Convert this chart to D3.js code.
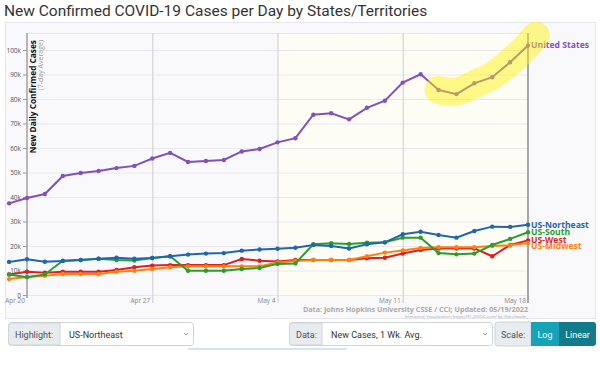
<!DOCTYPE html>
<html>
<head>
<meta charset="utf-8">
<script src="https://cdn.jsdelivr.net/npm/d3@7"></script>
<style>
  body { margin: 0; background: #fff; }
  svg { display: block; }
</style>
</head>
<body>
<div id="chart"></div>
<script>
// chart data (thousands of new cases, 7-day average)
var dates = ["2022-04-19","2022-04-20","2022-04-21","2022-04-22","2022-04-23","2022-04-24","2022-04-25",
  "2022-04-26","2022-04-27","2022-04-28","2022-04-29","2022-04-30","2022-05-01","2022-05-02","2022-05-03",
  "2022-05-04","2022-05-05","2022-05-06","2022-05-07","2022-05-08","2022-05-09","2022-05-10","2022-05-11",
  "2022-05-12","2022-05-13","2022-05-14","2022-05-15","2022-05-16","2022-05-17","2022-05-18"];

var unitedStates = [37.4,39.6,41.2,48.6,49.8,50.6,51.8,52.7,55.7,58,54.3,54.7,55.1,58.6,59.6,
  62.3,64,73.6,74.2,71.7,76.4,79.3,86.7,90.1,83.7,82,86.4,88.9,95,101.8];
var usNortheast = [13.5,14.6,13.6,13.9,14.3,14.8,15.2,14.8,15.1,15.8,16.5,16.9,17.1,18.1,18.6,
  18.9,19.3,20.4,20,19,20.7,21.5,24.8,25.8,24.5,23.4,26.1,27.9,27.8,28.7];
var usSouth = [8.4,7.3,8.4,14,14.3,14.8,14.3,14.1,15.1,15.8,9.9,9.9,9.9,10.6,11,
  12.7,12.9,20.7,21.1,20.8,21.3,21.5,23.4,23.4,17.1,16.6,16.9,20.4,22.9,25.6];
var usWest = [8.4,9.5,9.1,9.5,9.5,9.5,10.2,11.3,12,12.2,12.2,12.2,12.2,14.7,14,
  13.7,14.3,14.3,14.3,14.3,15,15.2,16.9,18.4,19,19,19,15.8,20.4,22.3];
var usMidwest = [6.5,7.3,7.9,8.6,8.6,8.6,9.5,9.9,10.6,11.3,11.7,11.7,11.7,11.7,11.7,
  13.3,13.9,14.3,14.3,14.3,15.8,17.3,18.2,19.2,19.5,19.5,19.5,20,20.3,21.2];

var seriesNames = ["US-West","US-Midwest","US-South","US-Northeast","United States"];
var seriesColors = ["#dc1f1f","#ff7f0e","#2a9d2a","#1f66b0","#8150c0"];
var seriesValues = [usWest, usMidwest, usSouth, usNortheast, unitedStates];

var xTickDates = ["2022-04-20","2022-04-27","2022-05-04","2022-05-11","2022-05-18"];
var yTicks = [0,10,20,30,40,50,60,70,80,90,100];
var highlightFrom = "2022-05-13";

var parseDate = d3.timeParse("%Y-%m-%d");
var fmtDay = d3.timeFormat("%b %-d");

var width = 600, height = 386;
var plot = {left: 6, x0: 27, right: 528, top: 33, bottom: 295};

var x = d3.scaleTime()
    .domain([parseDate("2022-04-20"), parseDate("2022-05-18")])
    .range([plot.x0, plot.right]);
var y = d3.scaleLinear().domain([0, 100]).range([plot.bottom, 50]);

var svg = d3.select("#chart").append("svg")
    .attr("width", width)
    .attr("height", height)
    .style("font-family", "Roboto, 'Open Sans', sans-serif");

// title
svg.append("text")
    .attr("x", 4).attr("y", 16)
    .attr("font-size", 15.5)
    .attr("fill", "#333")
    .text("New Confirmed COVID-19 Cases per Day by States/Territories");

// outer panel
svg.append("rect")
    .attr("x", 5.5).attr("y", 22.5)
    .attr("width", 590).attr("height", 296)
    .attr("fill", "#f9f9fc")
    .attr("stroke", "#e6e6ee");

svg.append("defs").append("clipPath").attr("id", "clip")
  .append("rect")
    .attr("x", plot.left).attr("y", plot.top)
    .attr("width", plot.right - plot.left + 4).attr("height", plot.bottom - plot.top + 4);

// cream background for latest weeks
svg.append("rect")
    .attr("x", x(parseDate("2022-05-04"))).attr("y", plot.top)
    .attr("width", x(parseDate("2022-05-18")) - x(parseDate("2022-05-04")))
    .attr("height", plot.bottom - plot.top)
    .attr("fill", "#fdfdf6");

// horizontal grid
svg.append("g").selectAll("line")
    .data(yTicks.concat([110]))
    .enter().append("line")
    .attr("x1", plot.x0).attr("x2", plot.right)
    .attr("y1", function(d) { return Math.max(plot.top, y(d)) + 0.5; })
    .attr("y2", function(d) { return Math.max(plot.top, y(d)) + 0.5; })
    .attr("stroke", "#e8e8ee");

// vertical grid lines
svg.append("g").selectAll("line")
    .data(xTickDates.slice(1, 4))
    .enter().append("line")
    .attr("x1", function(d) { return x(parseDate(d)) + 0.5; })
    .attr("x2", function(d) { return x(parseDate(d)) + 0.5; })
    .attr("y1", plot.top).attr("y2", 303)
    .attr("stroke", "#d4d4d8").attr("stroke-width", 1.2);

// y axis
var yAxis = svg.append("g")
    .attr("transform", "translate(" + plot.x0 + ",0)")
    .call(d3.axisLeft(y).tickValues(yTicks).tickSize(4).tickPadding(2)
      .tickFormat(function(d) { return d === 0 ? "0" : d + "k"; }));
yAxis.select(".domain").remove();
yAxis.selectAll("line").attr("stroke", "#999");
yAxis.selectAll("text").attr("font-size", 6.5).attr("fill", "#555")
    .attr("font-family", "'Open Sans', sans-serif");
svg.append("line")
    .attr("x1", plot.x0).attr("x2", plot.x0)
    .attr("y1", plot.top).attr("y2", 298)
    .attr("stroke", "#a0a0a4").attr("stroke-width", 1.5);

// today line
svg.append("line")
    .attr("x1", plot.right).attr("x2", plot.right)
    .attr("y1", plot.top).attr("y2", 303)
    .attr("stroke", "#8a8a8e").attr("stroke-width", 1.5);

// x axis labels
svg.append("g").selectAll("text")
    .data(xTickDates)
    .enter().append("text")
    .attr("x", function(d) { return x(parseDate(d)) - 2; })
    .attr("y", 303)
    .attr("text-anchor", "end")
    .attr("font-size", 6.5)
    .attr("fill", "#888")
    .attr("font-family", "'Open Sans', sans-serif")
    .text(function(d) { return fmtDay(parseDate(d)); });

// axis title
svg.append("text")
    .attr("transform", "translate(36,40) rotate(-90)")
    .attr("text-anchor", "end")
    .attr("font-size", 8.3).attr("font-weight", "bold").attr("fill", "#111")
    .attr("font-family", "'Open Sans', sans-serif")
    .text("New Daily Confirmed Cases");
svg.append("text")
    .attr("transform", "translate(43,40) rotate(-90)")
    .attr("text-anchor", "end")
    .attr("font-size", 7).attr("fill", "#999")
    .attr("font-family", "'Open Sans', sans-serif")
    .text("(7-day Average)");

// lines
var line = d3.line()
    .x(function(d, i) { return x(parseDate(dates[i])); })
    .y(function(d) { return y(d); });

var lines = svg.append("g").attr("clip-path", "url(#clip)");
seriesValues.forEach(function(vals, k) {
  var g = lines.append("g");
  g.append("path")
      .attr("d", line(vals))
      .attr("fill", "none")
      .attr("stroke", seriesColors[k])
      .attr("stroke-width", 2);
  g.selectAll("circle")
      .data(vals)
      .enter().append("circle")
      .attr("cx", function(d, i) { return x(parseDate(dates[i])); })
      .attr("cy", function(d) { return y(d); })
      .attr("r", 2.2)
      .attr("fill", seriesColors[k]);
});

// series labels
var labelY = {"United States": 48, "US-Northeast": 227.5, "US-South": 235, "US-West": 242.5, "US-Midwest": 248.5};
seriesNames.forEach(function(name, k) {
  svg.append("text")
      .attr("x", plot.right + 3)
      .attr("y", labelY[name])
      .attr("font-size", 8.6).attr("font-weight", "bold")
      .attr("font-family", "'Open Sans', sans-serif")
      .attr("fill", seriesColors[k])
      .text(name);
});

// yellow highlight marker over latest US points
var hiStart = dates.indexOf(highlightFrom);
var hiPts = unitedStates.slice(hiStart).map(function(d, i) {
  return [x(parseDate(dates[hiStart + i])), y(d)];
});
hiPts.push([x(parseDate("2022-05-18")) + 8, y(unitedStates[unitedStates.length - 1]) - 10]);
svg.append("path")
    .attr("d", d3.line().curve(d3.curveBasis)(hiPts))
    .attr("fill", "none")
    .attr("stroke", "#fff200")
    .attr("stroke-opacity", 0.45)
    .attr("stroke-width", 28)
    .attr("stroke-linecap", "round");

// source
svg.append("text")
    .attr("x", plot.right).attr("y", 312)
    .attr("text-anchor", "end")
    .attr("font-size", 7.2).attr("font-weight", "bold").attr("fill", "#aaa")
    .attr("font-family", "'Open Sans', sans-serif")
    .text("Data: Johns Hopkins University CSSE / CCI; Updated: 05/19/2022");
svg.append("text")
    .attr("x", plot.right).attr("y", 317.5)
    .attr("text-anchor", "end")
    .attr("font-size", 4.2).attr("fill", "#aaa")
    .attr("font-family", "'Open Sans', sans-serif")
    .text("Interactive Visualization: https://91-DIVOC.com/ by @profwade_");

// controls
var ctrl = svg.append("g").attr("font-size", 9).attr("fill", "#495057");
function group(x0, labelW, selW, label, value) {
  ctrl.append("rect").attr("x", x0 + 0.5).attr("y", 322.5).attr("width", labelW + selW).attr("height", 23)
      .attr("rx", 3).attr("fill", "#fff").attr("stroke", "#ced4da");
  ctrl.append("path")
      .attr("d", "M" + (x0 + labelW) + ",323 V345 H" + (x0 + 3.5) + " a3,3 0 0 1 -3,-3 V326 a3,3 0 0 1 3,-3 Z")
      .attr("fill", "#e9ecef").attr("stroke", "#ced4da");
  ctrl.append("text").attr("x", x0 + 7).attr("y", 337.5).text(label);
  if (value) {
    ctrl.append("text").attr("x", x0 + labelW + 9).attr("y", 337.5).attr("fill", "#333").text(value);
    ctrl.append("path")
        .attr("d", "M" + (x0 + labelW + selW - 9) + ",333 l2,2 l2,-2")
        .attr("fill", "none").attr("stroke", "#888").attr("stroke-width", 0.8);
  }
}
group(8, 52, 133, "Highlight:", "US-Northeast");
group(289, 33, 170, "Data:", "New Cases, 1 Wk. Avg.");
ctrl.append("path")
    .attr("d", "M531,322 H498 a3,3 0 0 0 -3,3 V343 a3,3 0 0 0 3,3 H531 Z")
    .attr("fill", "#e9ecef").attr("stroke", "#ced4da");
ctrl.append("text").attr("x", 501).attr("y", 337.5).text("Scale:");
ctrl.append("rect").attr("x", 531).attr("y", 322).attr("width", 28).attr("height", 24).attr("fill", "#17a2b8");
ctrl.append("path")
    .attr("d", "M559,322 H593 a3,3 0 0 1 3,3 V343 a3,3 0 0 1 -3,3 H559 Z")
    .attr("fill", "#117a8b");
ctrl.append("text").attr("x", 545).attr("y", 337.5).attr("text-anchor", "middle").attr("fill", "#fff").text("Log");
ctrl.append("text").attr("x", 577.5).attr("y", 337.5).attr("text-anchor", "middle").attr("fill", "#fff").text("Linear");
svg.append("rect").attr("x", 188).attr("y", 348).attr("width", 159).attr("height", 2).attr("fill", "#d3e3fb");
</script>
</body>
</html>
